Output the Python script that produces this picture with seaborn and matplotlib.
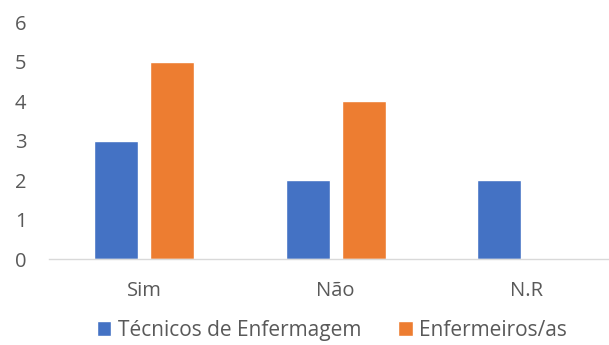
import pandas as pd
import seaborn as sns
import matplotlib.pyplot as plt

# Data
categories = ["Sim", "Não", "N.R"]
tecnicos = [3, 2, 2]
enfermeiros = [5, 4, 0]
series_names = ["Técnicos de Enfermagem", "Enfermeiros/as"]

df = pd.DataFrame({
    "categoria": categories * 2,
    "valor": tecnicos + enfermeiros,
    "grupo": [series_names[0]] * 3 + [series_names[1]] * 3,
})

sns.set_style("white")
plt.rcParams["font.family"] = ["Open Sans", "DejaVu Sans"]

fig = plt.figure(figsize=(6.09, 3.45), dpi=100)
ax = fig.add_axes([0.08, 0.249, 0.942, 0.687])

sns.barplot(
    data=df, x="categoria", y="valor", hue="grupo",
    palette=["#4472C4", "#ED7D31"], saturation=1,
    width=0.586, gap=0.215, ax=ax, legend=True,
)

ax.set_xlim(-0.5, 2.5)
ax.set_ylim(0, 6)
ax.set_yticks(range(0, 7))
ax.set_xlabel("")
ax.set_ylabel("")

for s in ["top", "right", "left"]:
    ax.spines[s].set_visible(False)
ax.spines["bottom"].set_color("#d9d9d9")
ax.spines["bottom"].set_linewidth(1)

ax.tick_params(axis="x", length=0, pad=16, labelsize=14.5, labelcolor="#595959")
ax.tick_params(axis="y", length=0, pad=16, labelsize=14.5, labelcolor="#595959")

ax.legend_.remove()
handles, labels = ax.get_legend_handles_labels()
fig.legend(
    handles, labels, loc="center", bbox_to_anchor=(0.545, 0.043),
    ncol=2, frameon=False, fontsize=15, labelcolor="#595959",
    handlelength=0.7, handleheight=0.7, handletextpad=0.3, columnspacing=1.8,
)

plt.savefig("out.png", dpi=100)
